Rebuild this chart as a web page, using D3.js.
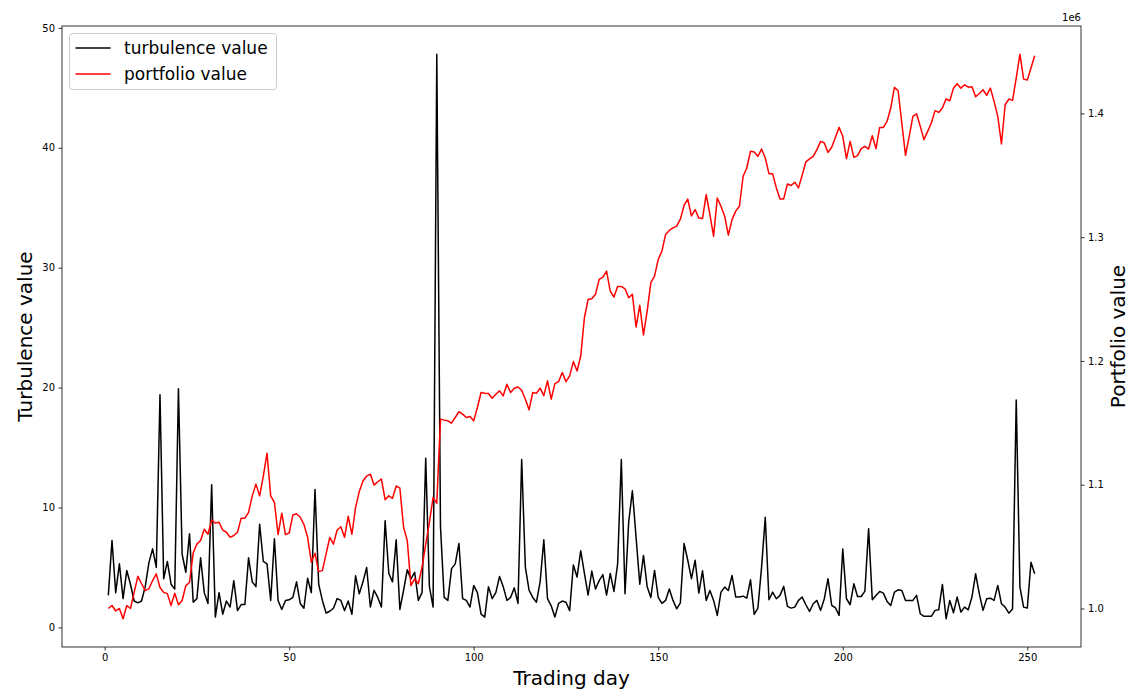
<!DOCTYPE html>
<html>
<head>
<meta charset="utf-8">
<script src="https://cdn.jsdelivr.net/npm/d3@7"></script>
<style>
  body { margin: 0; background: #fff; }
  svg { display: block; font-family: "DejaVu Sans", sans-serif; }
</style>
</head>
<body>
<div id="chart"></div>
<script>
// turbulence value per trading day (day 1 .. 252)
const turbulence = [
  2.67, 7.25, 2.9, 5.3, 2.4, 4.75, 3.6, 2.2, 2.05, 2.2,
  3.4, 5.4, 6.55, 5.0, 19.4, 4.05, 5.5, 3.6, 3.2, 19.9,
  6.1, 4.6, 7.8, 2.1, 2.4, 5.8, 2.9, 2.0, 11.9, 0.86,
  2.9, 1.1, 2.2, 1.7, 3.9, 1.4, 1.9, 1.9, 5.8, 3.8,
  3.4, 8.6, 5.5, 5.3, 2.25, 7.4, 2.25, 1.5, 2.25, 2.3,
  2.5, 3.8, 2.0, 1.6, 4.1, 2.9, 11.5, 3.6, 2.25, 1.2,
  1.35, 1.6, 2.4, 2.25, 1.4, 2.2, 1.1, 4.3, 2.8, 3.8,
  5.0, 1.7, 3.1, 2.5, 1.7, 8.9, 4.5, 3.8, 7.3, 1.5,
  3.1, 4.8, 4.05, 4.6, 2.25, 2.9, 14.1, 3.4, 1.7, 47.8,
  8.4, 2.5, 2.25, 4.9, 5.3, 7.0, 2.4, 2.25, 1.7, 3.5,
  2.9, 1.1, 0.86, 3.4, 2.4, 2.9, 4.25, 3.4, 2.25, 2.5,
  3.3, 2.0, 14.0, 5.0, 3.1, 2.5, 2.1, 3.8, 7.3, 2.4,
  1.8, 0.86, 2.0, 2.2, 2.1, 1.4, 5.2, 4.2, 6.4, 4.5,
  2.7, 4.7, 3.2, 3.9, 4.4, 2.7, 4.5, 3.0, 5.3, 14.0,
  2.8, 8.8, 11.4, 7.5, 3.6, 6.0, 3.4, 2.5, 4.75, 2.5,
  2.0, 2.25, 3.2, 2.25, 1.55, 2.05, 7.0, 5.6, 4.06, 5.6,
  2.86, 4.72, 2.25, 3.08, 2.25, 1.0, 2.94, 3.36, 3.08, 4.33,
  2.53, 2.53, 2.61, 2.44, 3.97, 1.08, 1.61, 5.03, 9.19, 2.31,
  2.94, 2.39, 2.67, 3.42, 1.75, 1.61, 1.69, 2.25, 2.53, 1.89,
  1.33, 1.97, 2.25, 1.42, 2.39, 4.06, 1.83, 1.64, 1.0, 6.53,
  2.39, 1.89, 3.64, 2.58, 2.58, 3.03, 8.22, 2.31, 2.67, 3.0,
  2.86, 2.17, 1.83, 2.94, 3.14, 3.08, 2.25, 2.25, 2.25, 2.67,
  1.14, 0.92, 0.92, 0.92, 1.42, 1.47, 3.58, 0.72, 2.25, 1.22,
  2.53, 1.28, 1.69, 1.47, 2.53, 4.47, 2.8, 1.42, 2.39, 2.44,
  2.25, 3.5, 1.97, 1.69, 1.19, 1.53, 18.97, 3.36, 1.69, 1.61,
  5.44, 4.47
];

// portfolio value per trading day, in units of 1e6
const portfolio = [
  1.000, 1.0024, 0.998, 1.000, 0.9917, 1.0024, 1.000, 1.013, 1.026, 1.020,
  1.0145, 1.016, 1.0226, 1.028, 1.017, 1.013, 1.012, 1.0024, 1.0124, 1.003,
  1.0065, 1.0185, 1.021, 1.045, 1.052, 1.055, 1.064, 1.060, 1.0715, 1.069,
  1.0696, 1.0634, 1.0616, 1.0575, 1.059, 1.0616, 1.073, 1.073, 1.0777, 1.091,
  1.1005, 1.091, 1.107, 1.1255, 1.091, 1.0858, 1.0597, 1.077, 1.0597, 1.061,
  1.0755, 1.0766, 1.0737, 1.068, 1.0575, 1.0374, 1.0446, 1.0298, 1.0306, 1.044,
  1.0575, 1.052, 1.0634, 1.066, 1.0575, 1.0745, 1.060, 1.0817, 1.0946, 1.103,
  1.107, 1.1086, 1.0997, 1.1024, 1.1046, 1.0879, 1.091, 1.089, 1.099, 1.0973,
  1.0656, 1.0548, 1.0185, 1.024, 1.020, 1.0333, 1.052, 1.0696, 1.0898, 1.085,
  1.1530, 1.1522, 1.1516, 1.1497, 1.1543, 1.1591, 1.1570, 1.1543, 1.1551, 1.1516,
  1.1624, 1.1745, 1.1739, 1.1737, 1.1699, 1.1731, 1.1758, 1.1718, 1.1812, 1.1745,
  1.1780, 1.1790, 1.1763, 1.1691, 1.1605, 1.1745, 1.1739, 1.1780, 1.1720, 1.1839,
  1.1691, 1.1817, 1.1833, 1.1906, 1.1833, 1.1879, 1.1995, 1.1919, 1.2040, 1.2349,
  1.2497, 1.2503, 1.2538, 1.2659, 1.2677, 1.2726, 1.2565, 1.2516, 1.2602, 1.2602,
  1.2583, 1.2511, 1.2538, 1.2274, 1.2449, 1.2210, 1.2403, 1.2632, 1.2685, 1.2820,
  1.2887, 1.3022, 1.3054, 1.3075, 1.3089, 1.3145, 1.3256, 1.3308, 1.3172, 1.3223,
  1.3154, 1.3151, 1.3344, 1.3183, 1.3008, 1.3317, 1.3250, 1.3169, 1.3016, 1.3142,
  1.3210, 1.3250, 1.3492, 1.3559, 1.3694, 1.3688, 1.3653, 1.3712, 1.3640, 1.3513,
  1.3513, 1.3398, 1.3309, 1.3309, 1.3430, 1.3417, 1.3444, 1.3398, 1.3500, 1.3608,
  1.3632, 1.3653, 1.3707, 1.3774, 1.3761, 1.3685, 1.3726, 1.3806, 1.3887, 1.3815,
  1.3634, 1.3774, 1.3645, 1.3659, 1.3715, 1.3734, 1.3712, 1.3820, 1.3715, 1.3887,
  1.3887, 1.3935, 1.4043, 1.4210, 1.4183, 1.3922, 1.3661, 1.3815, 1.3976, 1.3997,
  1.3895, 1.3788, 1.3855, 1.3922, 1.4022, 1.4008, 1.4043, 1.4118, 1.4102, 1.4204,
  1.4239, 1.4204, 1.4231, 1.4212, 1.4215, 1.4134, 1.4161, 1.4191, 1.4145, 1.4204,
  1.4097, 1.3976, 1.3753, 1.4070, 1.4116, 1.4105, 1.4285, 1.4478, 1.4277, 1.4269,
  1.4366, 1.4465
];

const days = d3.range(1, turbulence.length + 1);

const x_ticks = [0, 50, 100, 150, 200, 250];
const left_ticks = [0, 10, 20, 30, 40, 50];
const right_ticks = [1.0, 1.1, 1.2, 1.3, 1.4];

const legend_labels = ["turbulence value", "portfolio value"];
const line_colors = ["#000000", "#ff0000"];

const width = 1129, height = 690;
const margin = {top: 26, right: 48, bottom: 43, left: 62};

// matplotlib style 5% padding around data extent
function padded(ext) {
  const pad = (ext[1] - ext[0]) * 0.05;
  return [ext[0] - pad, ext[1] + pad];
}

const svg = d3.select("#chart")
  .append("svg")
  .attr("width", width)
  .attr("height", height);

svg.append("rect").attr("width", width).attr("height", height).attr("fill", "#fff");

const x = d3.scaleLinear()
  .domain(padded(d3.extent(days)))
  .range([margin.left, width - margin.right]);

const yL = d3.scaleLinear()
  .domain(padded(d3.extent(turbulence)))
  .range([height - margin.bottom, margin.top]);

const yR = d3.scaleLinear()
  .domain(padded(d3.extent(portfolio)))
  .range([height - margin.bottom, margin.top]);

const plot = svg.append("g");

const turb_line = d3.line()
  .x((d, i) => x(days[i]))
  .y(d => yL(d));

const port_line = d3.line()
  .x((d, i) => x(days[i]))
  .y(d => yR(d));

plot.append("path")
  .datum(turbulence)
  .attr("d", turb_line)
  .attr("fill", "none")
  .attr("stroke", line_colors[0])
  .attr("stroke-width", 1.5)
  .attr("stroke-linejoin", "round");

plot.append("path")
  .datum(portfolio)
  .attr("d", port_line)
  .attr("fill", "none")
  .attr("stroke", line_colors[1])
  .attr("stroke-width", 1.5)
  .attr("stroke-linejoin", "round");

// axes
const tick_style = g => {
  g.select(".domain").remove();
  g.selectAll(".tick line").attr("stroke", "#000").attr("stroke-width", 0.8);
  g.selectAll(".tick text").attr("fill", "#000").style("font-size", "10px")
    .style("font-family", "DejaVu Sans");
};

svg.append("g")
  .attr("transform", `translate(0,${height - margin.bottom})`)
  .call(d3.axisBottom(x).tickValues(x_ticks).tickSize(3.5).tickPadding(3.5).tickFormat(d3.format("d")))
  .call(tick_style);

svg.append("g")
  .attr("transform", `translate(${margin.left},0)`)
  .call(d3.axisLeft(yL).tickValues(left_ticks).tickSize(3.5).tickPadding(3.5).tickFormat(d3.format("d")))
  .call(tick_style);

svg.append("g")
  .attr("transform", `translate(${width - margin.right},0)`)
  .call(d3.axisRight(yR).tickValues(right_ticks).tickSize(3.5).tickPadding(3.5).tickFormat(d3.format(".1f")))
  .call(tick_style);

// frame
svg.append("rect")
  .attr("x", margin.left)
  .attr("y", margin.top)
  .attr("width", width - margin.left - margin.right)
  .attr("height", height - margin.top - margin.bottom)
  .attr("fill", "none")
  .attr("stroke", "#000")
  .attr("stroke-width", 0.8);

// offset text of the right axis
svg.append("text")
  .attr("x", width - margin.right)
  .attr("y", margin.top - 5)
  .attr("text-anchor", "end")
  .style("font-size", "10px")
  .text("1e6");

// axis labels
const mid_y = (margin.top + height - margin.bottom) / 2;

svg.append("text")
  .attr("transform", `translate(32,${mid_y}) rotate(-90)`)
  .attr("text-anchor", "middle")
  .style("font-size", "20px")
  .text("Turbulence value");

svg.append("text")
  .attr("transform", `translate(1125,${mid_y}) rotate(-90)`)
  .attr("text-anchor", "middle")
  .style("font-size", "20px")
  .text("Portfolio value");

svg.append("text")
  .attr("x", (margin.left + width - margin.right) / 2)
  .attr("y", 685)
  .attr("text-anchor", "middle")
  .style("font-size", "20px")
  .text("Trading day");

// legend
const legend = svg.append("g").attr("transform", "translate(69.5,33.5)");

legend.append("rect")
  .attr("width", 207)
  .attr("height", 56)
  .attr("rx", 3)
  .attr("fill", "#fff")
  .attr("fill-opacity", 0.8)
  .attr("stroke", "#cccccc")
  .attr("stroke-width", 1);

legend_labels.forEach((label, i) => {
  const yy = 14.5 + i * 26;
  legend.append("line")
    .attr("x1", 6).attr("x2", 41)
    .attr("y1", yy).attr("y2", yy)
    .attr("stroke", line_colors[i])
    .attr("stroke-width", 1.5);
  legend.append("text")
    .attr("x", 54.5)
    .attr("y", yy)
    .attr("dy", "0.36em")
    .style("font-size", "17px")
    .text(label);
});
</script>
</body>
</html>
